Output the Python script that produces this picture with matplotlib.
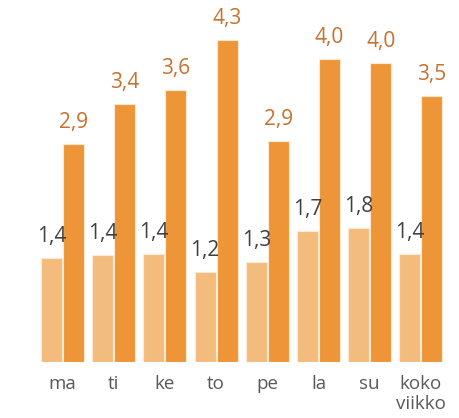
# Grouped bar chart: daily values (light vs dark series) per weekday
import matplotlib.pyplot as plt
import numpy as np

# ------------------------------
# Data
# ------------------------------
days = ["ma", "ti", "ke", "to", "pe", "la", "su", "koko\nviikko"]
light_values = [1.38, 1.42, 1.44, 1.19, 1.33, 1.74, 1.79, 1.44]
dark_values = [2.9, 3.44, 3.62, 4.3, 2.94, 4.04, 3.99, 3.54]

light_color = "#F4BC7C"
dark_color = "#EE9637"

plt.rcParams["font.family"] = ["Open Sans", "DejaVu Sans"]

fig = plt.figure(figsize=(4.6, 4.18), dpi=100)
ax = fig.add_axes([0, 56.4 / 418, 1, 361.6 / 418])

x = np.arange(len(days))
w = 0.41
off = 0.215

bars_l = ax.bar(x - off, light_values, width=w, color=light_color,
                edgecolor="#FCE9D6", linewidth=0.8)
bars_d = ax.bar(x + off, dark_values, width=w, color=dark_color,
                edgecolor="#FCE9D6", linewidth=0.8)


def fmt(v):
    return f"{v:.1f}".replace(".", ",")


for b, v in zip(bars_l, light_values):
    ax.annotate(fmt(v), (b.get_x() + b.get_width() / 2, v),
                xytext=(0, 11.5), textcoords="offset points",
                ha="center", va="baseline", fontsize=15, color="#404040")
for b, v in zip(bars_d, dark_values):
    ax.annotate(fmt(v), (b.get_x() + b.get_width() / 2, v),
                xytext=(0, 11.5), textcoords="offset points",
                ha="center", va="baseline", fontsize=15, color="#C8702E")

ax.set_xlim(-62.5 / 51.2, (460 - 62.5) / 51.2)
ax.set_ylim(0, 361.6 / 74.9)
ax.set_xticks(x)
ax.set_xticklabels(days, fontsize=13.5, color="#595959", linespacing=1.1)
ax.tick_params(axis="x", length=0, pad=10)
ax.set_yticks([])
for s in ax.spines.values():
    s.set_visible(False)

fig.savefig("out.png", dpi=100)
